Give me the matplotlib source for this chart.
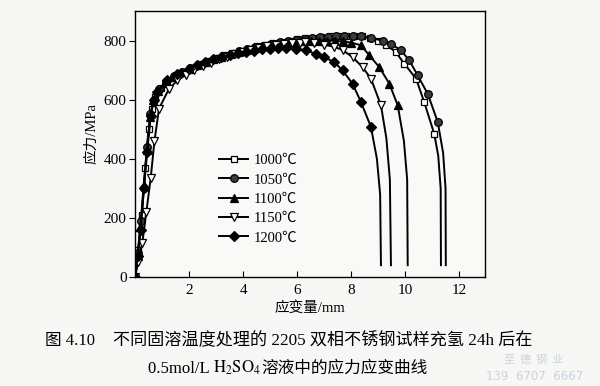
import matplotlib
matplotlib.use("Agg")
import matplotlib.pyplot as plt

plt.rcParams['font.family'] = ['Liberation Serif', 'Noto Sans CJK SC']
plt.rcParams['mathtext.fontset'] = 'stix'

# strain (mm) / stress (MPa); last 3 points are the unmarked fracture tail
labels = ['1000℃', '1050℃', '1100℃', '1150℃', '1200℃']

x_1000 = [0, 0.12, 0.25, 0.38, 0.5, 0.62, 0.75, 0.95, 1.2, 1.5, 1.8, 2.1, 2.4, 2.7, 3.0, 3.3,
          3.6, 3.9, 4.2, 4.5, 4.8, 5.1, 5.4, 5.7, 6.0, 6.3, 6.6, 6.9, 7.2, 7.5, 7.8, 8.1, 8.4,
          8.7, 9.0, 9.3, 9.65, 9.96, 10.4, 10.7, 11.07, 11.22, 11.31, 11.32]
y_1000 = [0, 90, 210, 370, 500, 570, 610, 640, 660, 680, 695, 708, 720, 731, 741, 750,
          758, 766, 773, 780, 786, 791, 796, 800, 804, 807, 810, 812, 814, 815, 816, 816, 814,
          808, 798, 785, 761, 722, 671, 592, 485, 410, 300, 40]

x_1050 = [0, 0.1, 0.22, 0.33, 0.45, 0.57, 0.7, 0.9, 1.15, 1.45, 1.75, 2.05, 2.35, 2.65, 2.95,
          3.25, 3.55, 3.85, 4.15, 4.45, 4.75, 5.05, 5.35, 5.65, 5.95, 6.25, 6.55, 6.85, 7.15,
          7.45, 7.75, 8.05, 8.35, 8.73, 9.16, 9.47, 9.84, 10.15, 10.46, 10.83, 11.2, 11.4,
          11.49, 11.5]
y_1050 = [0, 80, 190, 300, 440, 550, 600, 635, 660, 680, 695, 707, 718, 729, 739,
          748, 756, 764, 771, 777, 783, 789, 794, 798, 802, 805, 808, 811, 813,
          815, 816, 817, 816, 808, 800, 789, 767, 733, 682, 620, 525, 420,
          300, 40]

x_1100 = [0, 0.1, 0.2, 0.32, 0.44, 0.56, 0.68, 0.85, 1.1, 1.4, 1.7, 2.0, 2.3, 2.6, 2.9, 3.2,
          3.5, 3.8, 4.1, 4.4, 4.7, 5.0, 5.3, 5.6, 5.9, 6.2, 6.5, 6.8, 7.1, 7.4, 7.7, 8.0, 8.36,
          8.67, 9.04, 9.41, 9.72, 9.95, 10.07, 10.09]
y_1100 = [0, 70, 170, 310, 430, 540, 600, 630, 658, 678, 692, 705, 716, 727, 737, 746,
          754, 762, 768, 774, 780, 785, 789, 792, 795, 797, 799, 800, 800, 799, 797, 793, 784,
          750, 710, 654, 581, 460, 330, 40]

x_1150 = [0, 0.12, 0.27, 0.42, 0.58, 0.72, 0.89, 1.26, 1.57, 1.9, 2.2, 2.5, 2.8, 3.1, 3.4,
          3.7, 4.0, 4.3, 4.6, 4.9, 5.2, 5.5, 5.8, 6.1, 6.3, 6.63, 7.0, 7.37, 7.68, 8.05, 8.42,
          8.73, 9.1, 9.3, 9.43, 9.47]
y_1150 = [0, 50, 115, 220, 334, 460, 570, 637, 665, 685, 700, 713, 725, 736, 745,
          754, 762, 769, 775, 780, 784, 788, 791, 793, 794, 793, 786, 779, 768, 744, 710,
          671, 581, 470, 330, 40]

x_1200 = [0, 0.1, 0.21, 0.33, 0.45, 0.58, 0.7, 0.83, 1.2, 1.57, 2.0, 2.3, 2.6, 2.9, 3.2, 3.5,
          3.8, 4.1, 4.4, 4.7, 5.0, 5.3, 5.6, 5.95, 6.32, 6.69, 7.0, 7.37, 7.68, 8.05, 8.36,
          8.73, 8.95, 9.07, 9.1]
y_1200 = [0, 70, 159, 300, 423, 545, 600, 626, 665, 688, 705, 716, 727, 736, 744, 751,
          757, 762, 766, 770, 773, 775, 775, 773, 767, 755, 744, 727, 699, 654, 592,
          508, 400, 280, 40]

strains = [x_1000, x_1050, x_1100, x_1150, x_1200]
stresses = [y_1000, y_1050, y_1100, y_1150, y_1200]
markers = ['s', 'o', '^', 'v', 'D']
faces = ['white', '#3a3a3a', 'black', 'white', 'black']
sizes = [5, 5.5, 5.5, 6, 4.6]

fig = plt.figure(figsize=(6, 3.86), dpi=100)
fig.patch.set_facecolor('#f7f7f5')
ax = fig.add_axes([135 / 600, 1 - 277 / 386, 350 / 600, 266 / 386])
ax.set_facecolor('#f9f9f7')

for xs, ys, m, fc, ms, lab in zip(strains, stresses, markers, faces, sizes, labels):
    ax.plot(xs, ys, color='black', lw=1.4, marker=m, ms=ms, mfc=fc, mec='black',
            mew=0.9, markevery=slice(0, len(xs) - 3), label=lab)

ax.set_xlim(0, 12.95)
ax.set_ylim(0, 900)
ax.set_xticks([2, 4, 6, 8, 10, 12])
ax.set_yticks([0, 200, 400, 600, 800])
ax.tick_params(axis='x', direction='in', length=4, labelsize=11, pad=5)
ax.tick_params(axis='y', direction='out', length=4, labelsize=11, pad=2)
for sp in ax.spines.values():
    sp.set_linewidth(1.0)

ax.set_xlabel('应变量/mm', fontsize=10.5, labelpad=3)
ax.set_ylabel('应力/MPa', fontsize=10.5)
ax.yaxis.set_label_coords(-0.105, 0.54)

leg = ax.legend(loc='upper left', bbox_to_anchor=(219 / 600, 1 - 154 / 386),
                bbox_transform=fig.transFigure, frameon=False, fontsize=10.5,
                handlelength=2.0, handletextpad=0.4, labelspacing=0.42,
                borderpad=0, borderaxespad=0)

# caption
fig.text(45 / 600, 1 - 345 / 386, '图 4.10', fontsize=12, va='baseline')
fig.text(113 / 600, 1 - 345 / 386, '不同固溶温度处理的 2205 双相不锈钢试样充氢 24h 后在',
         fontsize=12.3, va='baseline')

pieces = ['0.5mol/L ', r'$\mathrm{H_2SO_4}$', '溶液中的应力应变曲线']
renderer = fig.canvas.get_renderer()
texts = [fig.text(0, 1 - 373 / 386, p, fontsize=12, va='baseline') for p in pieces]
widths = [t.get_window_extent(renderer).width / fig.bbox.width for t in texts]
x0 = 288 / 600 - sum(widths) / 2
for t, w in zip(texts, widths):
    t.set_x(x0)
    x0 += w

# watermark
fig.text(534 / 600, 1 - 363 / 386, '至  德  钢  业', fontsize=8, color='#c9d2de',
         ha='center', va='baseline', family=['Noto Sans CJK SC'])
fig.text(535 / 600, 1 - 380 / 386, '139  6707  6667', fontsize=8.5, color='#c9d2de',
         ha='center', va='baseline', family=['DejaVu Sans'])

fig.savefig('out.png', dpi=100, facecolor=fig.get_facecolor())
